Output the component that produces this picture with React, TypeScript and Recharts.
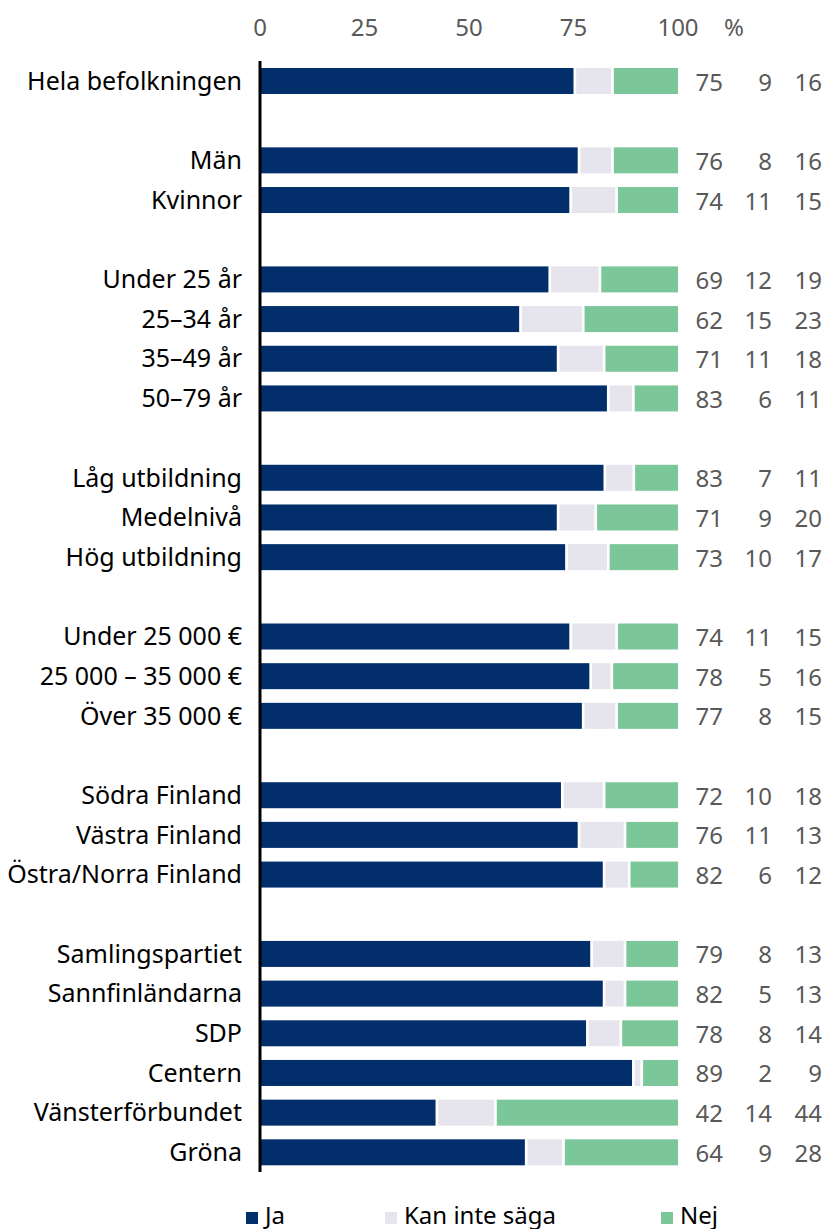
import { BarChart, Bar, XAxis, YAxis, LabelList, Legend } from 'recharts'

const FONT = '"Noto Sans", sans-serif'

// '' marks an empty spacer row between groups
const categories = [
  'Hela befolkningen', '',
  'Män', 'Kvinnor', '',
  'Under 25 år', '25–34 år', '35–49 år', '50–79 år', '',
  'Låg utbildning', 'Medelnivå', 'Hög utbildning', '',
  'Under 25 000 €', '25 000 – 35 000 €', 'Över 35 000 €', '',
  'Södra Finland', 'Västra Finland', 'Östra/Norra Finland', '',
  'Samlingspartiet', 'Sannfinländarna', 'SDP', 'Centern', 'Vänsterförbundet', 'Gröna',
]
const ja = [75, null, 76, 74, null, 69, 62, 71, 83, null, 83, 71, 73, null, 74, 78, 77, null, 72, 76, 82, null, 79, 82, 78, 89, 42, 64]
const kan = [9, null, 8, 11, null, 12, 15, 11, 6, null, 7, 9, 10, null, 11, 5, 8, null, 10, 11, 6, null, 8, 5, 8, 2, 14, 9]
const nej = [16, null, 16, 15, null, 19, 23, 18, 11, null, 11, 20, 17, null, 15, 16, 15, null, 18, 13, 12, null, 13, 13, 14, 9, 44, 28]
const percentTicks = [0, 25, 50, 75, 100]

const rows = categories.map((name, i) => ({ name, ja: ja[i], kan: kan[i], nej: nej[i] }))

const series = [
  { key: 'ja', name: 'Ja', color: '#022f6b', gap: 0, labelX: 723 },
  { key: 'kan', name: 'Kan inte säga', color: '#e6e4ec', gap: 2.7, labelX: 772 },
  { key: 'nej', name: 'Nej', color: '#7cc799', gap: 2.7, labelX: 822 },
]
const legendX = [246, 385, 661]

// white gap on the left side of a segment, so it sits after the previous one
const segment = (gap: number) => (props: any) => {
  const { x, y, width, height, fill } = props
  if (!width || width <= 0) return <g />
  return <rect x={x + gap} y={y} width={Math.max(0, width - gap)} height={height} fill={fill} />
}

const valueLabel = (right: number) => (props: any) => {
  const { y, height, value } = props
  if (value == null) return null
  return (
    <text x={right} y={y + height / 2} textAnchor="end" dominantBaseline="central" fontSize={24} fill="#595959">
      {value}
    </text>
  )
}

const TopTick = (props: any) => {
  const { x, y, payload } = props
  const v = Math.round(payload.value * 100)
  return (
    <g>
      <text x={x} y={y} textAnchor="middle" fontSize={24} fill="#595959">{v}</text>
      {v === 100 && (
        <text x={x + 56} y={y} textAnchor="middle" fontSize={24} fill="#595959">%</text>
      )}
    </g>
  )
}

const renderLegend = (props: any) => (
  <div style={{ position: 'relative', width: 825, height: 30, fontFamily: FONT, fontSize: 24, color: '#000' }}>
    {(props.payload || []).map((p: any, i: number) => (
      <div key={p.value}>
        <span style={{ position: 'absolute', left: legendX[i], top: 12, width: 12, height: 12, background: p.color }} />
        <span style={{ position: 'absolute', left: legendX[i] + 19, top: 0, lineHeight: '30px', whiteSpace: 'nowrap' }}>
          {p.value}
        </span>
      </div>
    ))}
  </div>
)

export default function App() {
  return (
    <div style={{ position: 'absolute', left: 0, top: 0, width: 825, height: 1229, background: '#fff', fontFamily: FONT }}>
      <BarChart
        width={825}
        height={1229}
        data={rows}
        layout="vertical"
        stackOffset="expand"
        barSize={26}
        margin={{ top: 0, right: 147, bottom: 57, left: 0 }}
        style={{ fontFamily: FONT }}
      >
        <XAxis
          type="number"
          orientation="top"
          domain={[0, 1]}
          ticks={percentTicks.map((t) => t / 100)}
          height={61}
          axisLine={false}
          tickLine={false}
          tickSize={0}
          tickMargin={25}
          tick={<TopTick />}
        />
        {series.map((s) => (
          <Bar
            key={s.key}
            dataKey={s.key}
            name={s.name}
            stackId="a"
            fill={s.color}
            shape={segment(s.gap)}
            isAnimationActive={false}
          >
            <LabelList dataKey={s.key} content={valueLabel(s.labelX)} />
          </Bar>
        ))}
        <YAxis
          type="category"
          dataKey="name"
          width={260}
          interval={0}
          tickLine={false}
          tickSize={0}
          tickMargin={18}
          axisLine={{ stroke: '#000', strokeWidth: 3 }}
          tick={{ fontSize: 25, fill: '#000' }}
        />
        <Legend
          layout="horizontal"
          verticalAlign="middle"
          align="center"
          content={renderLegend}
          wrapperStyle={{ top: 1200, left: 0, width: 825, height: 30 }}
        />
      </BarChart>
    </div>
  )
}
